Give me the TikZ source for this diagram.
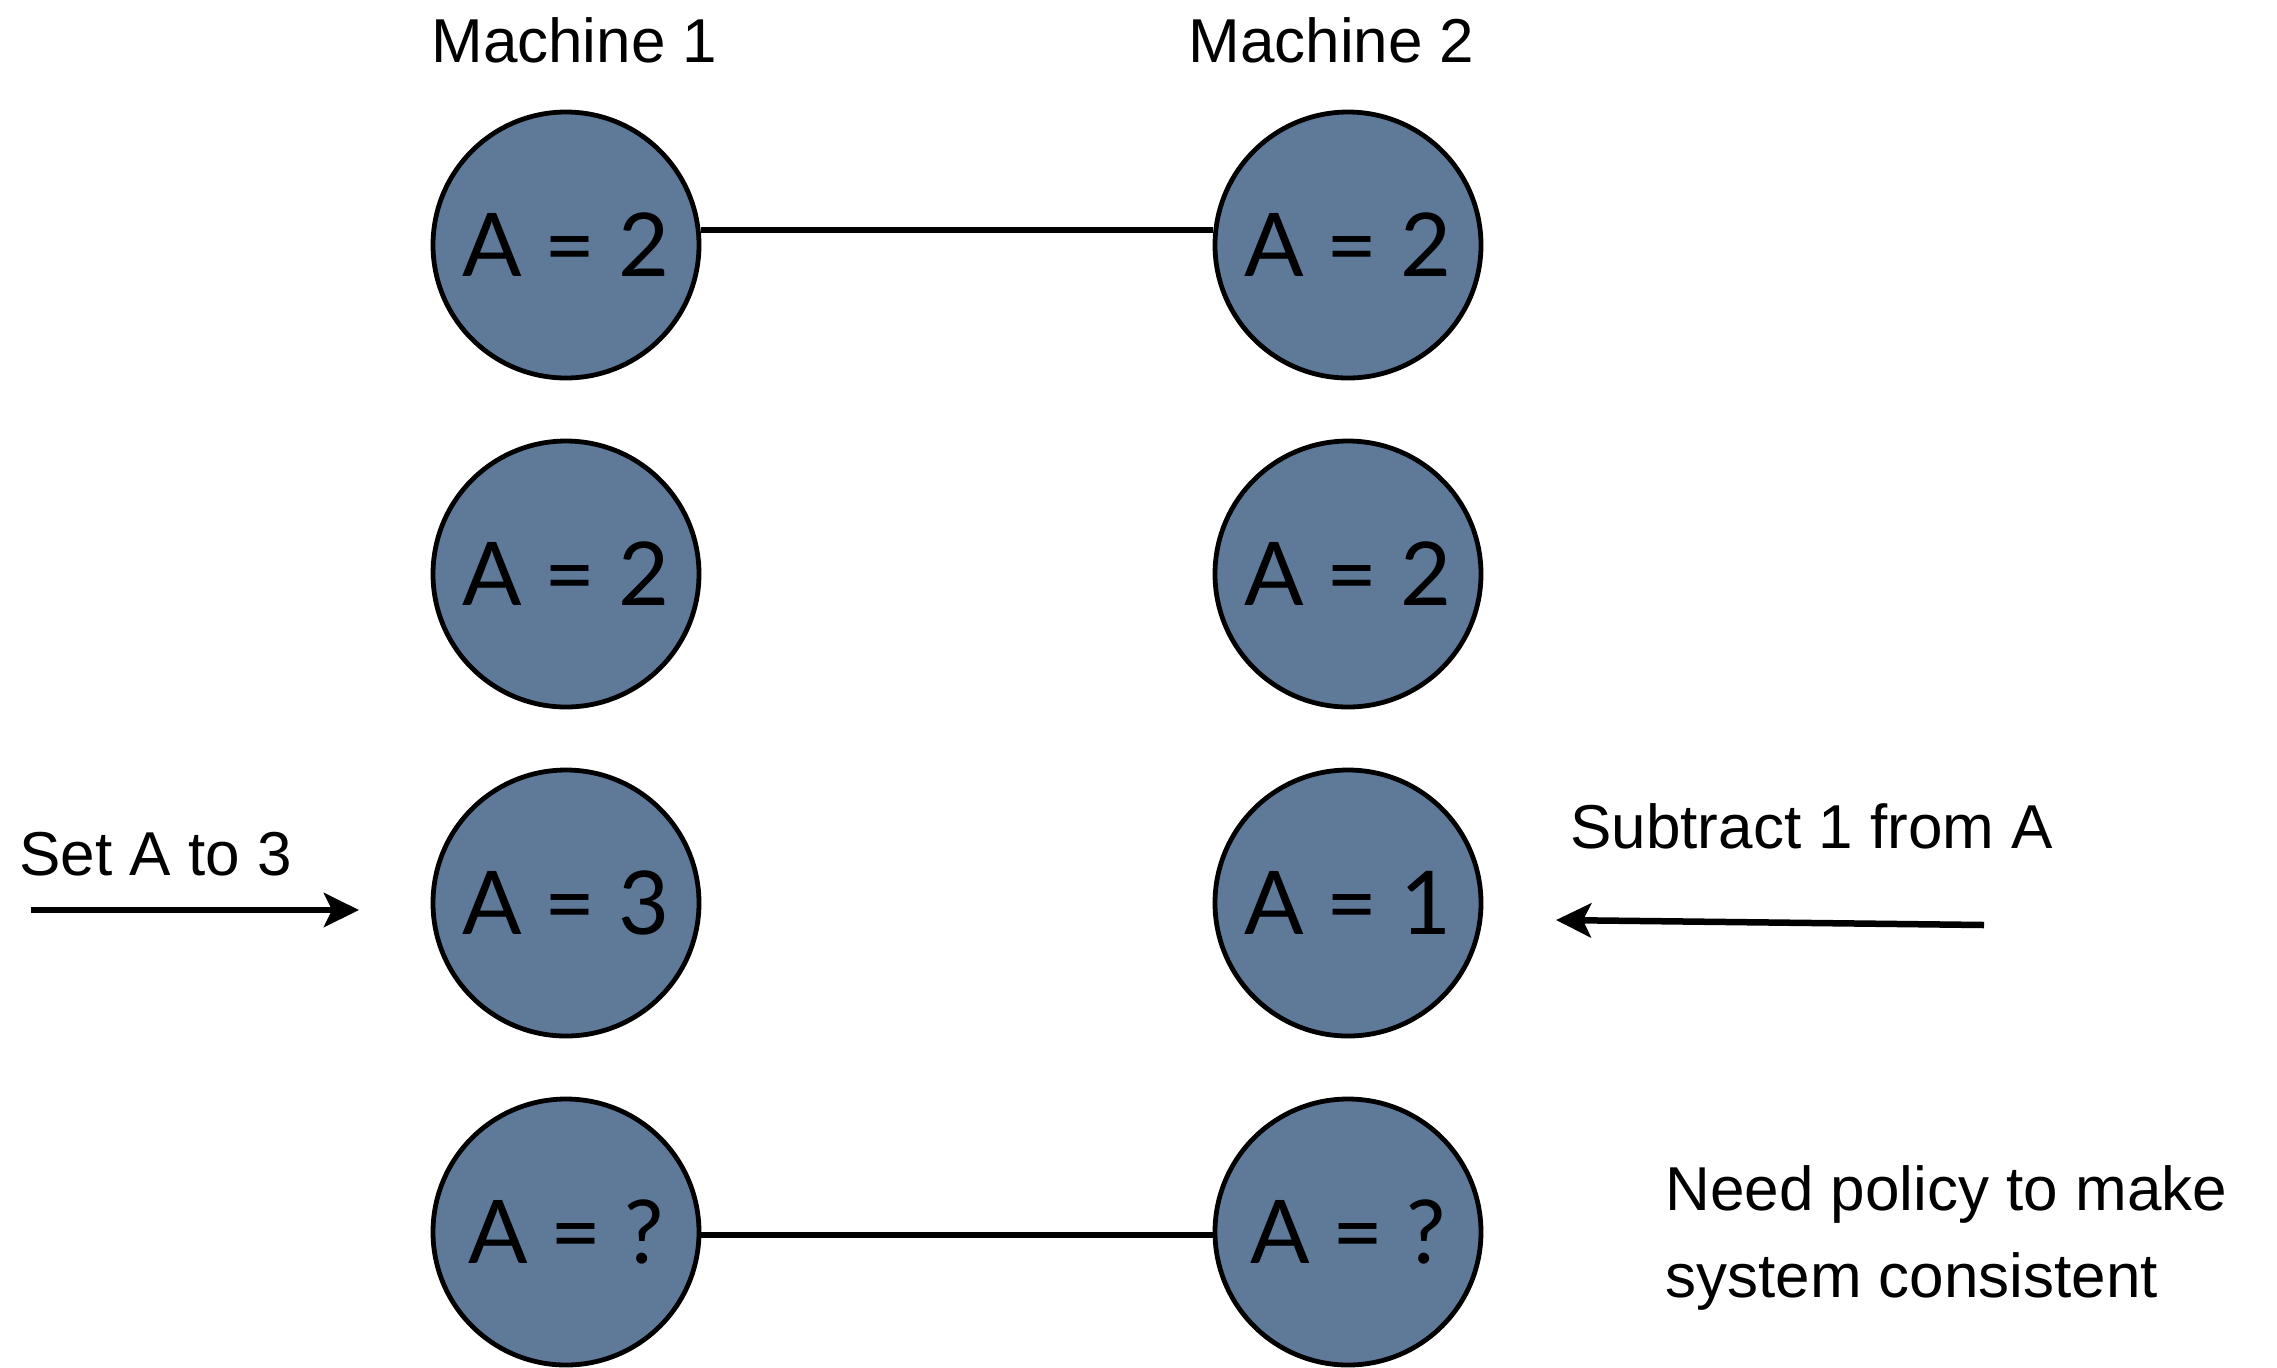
\documentclass[tikz,border=0pt]{standalone}
\usepackage{fontspec}
\setmainfont{Liberation Sans}
\newfontfamily\circfont{Lato}
\usetikzlibrary{arrows.meta}
\definecolor{nodeblue}{RGB}{95,122,153}
\begin{document}
\begin{tikzpicture}[x=0.5pt,y=-0.5pt,
  state/.style={circle,draw=black,line width=2.4pt,fill=nodeblue,minimum size=133pt,inner sep=0pt,
    font=\circfont\fontsize{44}{44}\selectfont},
  lbl/.style={font=\fontsize{31}{43.5}\selectfont,inner sep=0pt,anchor=base west},
  link/.style={line width=3.4pt},
  push/.style={line width=3.25pt,-{Stealth[length=17.5pt,width=17pt,inset=4pt]}}]
\useasboundingbox (0,0) rectangle (2277,1367);

% titles
\node[lbl] (m1) at (431,62) {Machine 1};
\node[lbl] (m2) at (1188,62) {Machine 2};

% states
\node[state] (a1) at (566,245) {A = 2};
\node[state] (b1) at (1348,245) {A = 2};
\node[state] (a2) at (566,574) {A = 2};
\node[state] (b2) at (1348,574) {A = 2};
\node[state] (a3) at (566,903) {A = 3};
\node[state] (b3) at (1348,903) {A = 1};
\node[state] (a4) at (566,1232) {A = ?};
\node[state] (b4) at (1348,1232) {A = ?};

% links
\draw[link] ([yshift=7.5pt]a1.east) -- ([yshift=7.5pt]b1.west);
\draw[link] ([yshift=-1.5pt]a4.east) -- ([yshift=-1.5pt]b4.west);

% operations
\node[lbl] (setA) at (19,875) {Set A to 3};
\coordinate (setS) at (31,910);
\coordinate (setE) at (359,910);
\draw[push] (setS) -- (setE);

\node[lbl] (subA) at (1570,848) {Subtract 1 from A};
\coordinate (subS) at (1984,925);
\coordinate (subE) at (1556,920);
\draw[push] (subS) -- (subE);

\node[lbl,align=left,anchor=base west] (need) at (1665,1297) {Need policy to make\\system consistent};
\end{tikzpicture}
\end{document}
